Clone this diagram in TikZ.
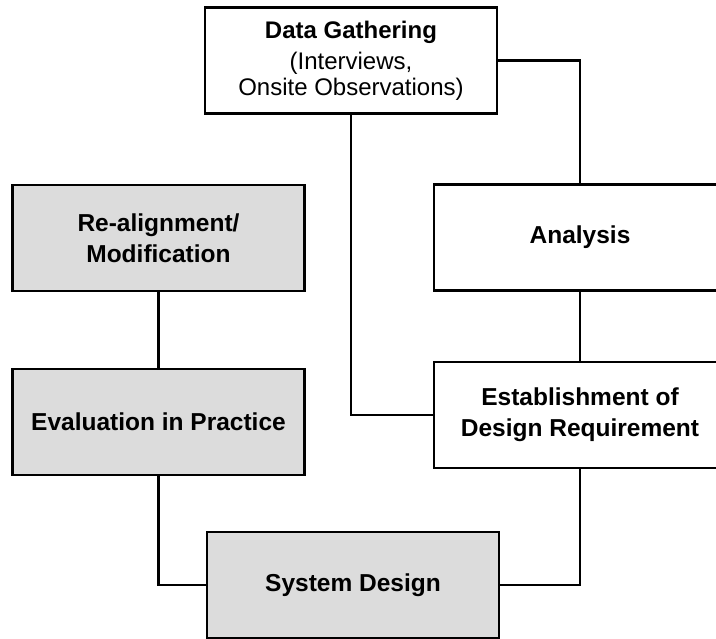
\documentclass[tikz,border=0pt]{standalone}
\usepackage{fontspec}
\setmainfont{Liberation Sans}
\definecolor{boxgray}{HTML}{DCDCDC}
\begin{document}
\begin{tikzpicture}[x=1pt,y=-1pt,
  box/.style={draw=black, line width=2.6pt, fill=white, minimum width=292pt, minimum height=106pt,
    inner sep=0pt, align=center, font=\fontsize{24.5}{31}\selectfont\bfseries},
  graybox/.style={box, fill=boxgray},
  link/.style={draw=black, line width=2.4pt}]
\useasboundingbox (0,0) rectangle (716,639);
\fill[white] (0,0) rectangle (716,639);
\begin{scope}
\clip (0,0) rectangle (716,639);
\node[box, font=\fontsize{24}{26}\selectfont] (dg) at (351,60.5) {\textbf{Data Gathering}\\[5pt] (Interviews,\\ Onsite Observations)};
\node[box] (an) at (580,237.5) {Analysis};
\node[box] (est) at (580,415) {Establishment of\\Design Requirement};
\node[graybox] (re) at (158.5,238) {Re-alignment/\\Modification};
\node[graybox] (ev) at (158.5,422) {Evaluation in Practice};
\node[graybox] (sd) at (353,585) {System Design};
\draw[link] (dg.east) -| (an.north);
\draw[link] (an.south) -- (est.north);
\draw[link] (dg.south) |- (est.west);
\draw[link] (est.south) |- (sd.east);
\draw[link] (sd.west) -| (ev.south);
\draw[link] (ev.north) -- (re.south);
\end{scope}
\end{tikzpicture}
\end{document}
